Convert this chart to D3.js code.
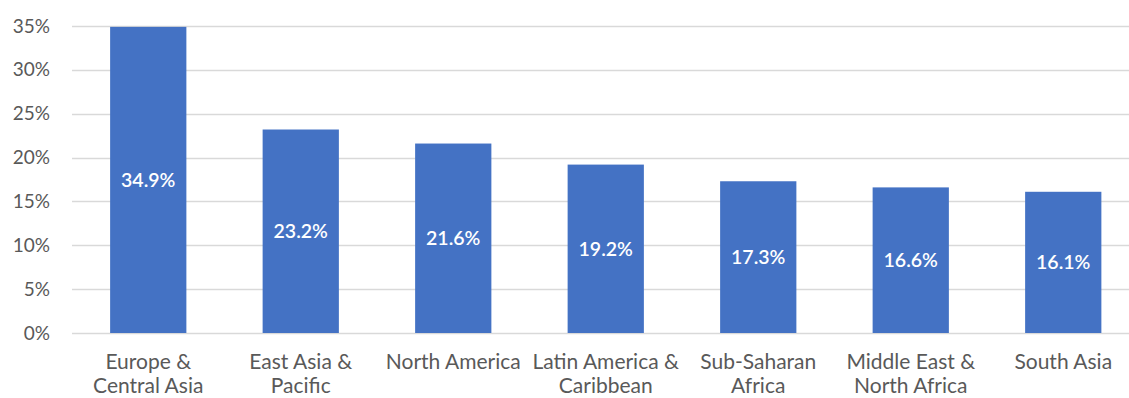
<!DOCTYPE html>
<html>
<head>
<meta charset="utf-8">
<script src="https://cdn.jsdelivr.net/npm/d3@7"></script>
<style>
  html, body { margin: 0; padding: 0; background: #fff; }
  svg { display: block; }
  text { font-family: Lato, "Open Sans", sans-serif; }
</style>
</head>
<body>
<svg id="chart" width="1129" height="398"></svg>
<script>
// Regions and their shares
const regions = [
  ["Europe &", "Central Asia"],
  ["East Asia &", "Pacific"],
  ["North America"],
  ["Latin America &", "Caribbean"],
  ["Sub-Saharan", "Africa"],
  ["Middle East &", "North Africa"],
  ["South Asia"]
];
const shares = [34.9, 23.2, 21.6, 19.2, 17.3, 16.6, 16.1];
const yTicks = [0, 5, 10, 15, 20, 25, 30, 35];

const W = 1129, H = 398;
const svg = d3.select("#chart");

const keys = regions.map(r => r.join(" "));
const x = d3.scaleBand()
  .domain(keys)
  .range([72, 1139.5])
  .paddingInner(0.5)
  .paddingOuter(0.25);

const y = d3.scaleLinear().domain([0, 35]).range([333, 26]);

// Horizontal gridlines
svg.append("g")
  .selectAll("line")
  .data(yTicks)
  .join("line")
  .attr("x1", 72).attr("x2", W)
  .attr("y1", d => Math.round(y(d)) + 0.5)
  .attr("y2", d => Math.round(y(d)) + 0.5)
  .attr("stroke", "#d9d9d9")
  .attr("stroke-width", 1.5);

// Y axis labels
const yAxis = d3.axisLeft(y).tickValues(yTicks).tickFormat(d => d + "%").tickSize(0).tickPadding(0);
const ga = svg.append("g").attr("transform", "translate(50,0)").call(yAxis);
ga.select(".domain").remove();
ga.selectAll("text")
  .attr("font-family", "Lato, 'Open Sans', sans-serif")
  .attr("font-size", 19)
  .attr("fill", "#595959");

// Bars
svg.append("g")
  .selectAll("rect")
  .data(shares)
  .join("rect")
  .attr("x", (d, i) => x(keys[i]))
  .attr("width", x.bandwidth())
  .attr("y", d => y(d))
  .attr("height", d => y(0) - y(d))
  .attr("fill", "#4472C4");

// Value labels centred in each bar
svg.append("g")
  .selectAll("text")
  .data(shares)
  .join("text")
  .attr("x", (d, i) => x(keys[i]) + x.bandwidth() / 2)
  .attr("y", d => (y(0) + y(d)) / 2)
  .attr("dy", "0.35em")
  .attr("text-anchor", "middle")
  .attr("font-size", 19.5)
  .attr("font-weight", 600)
  .attr("fill", "#ffffff")
  .text(d => d.toFixed(1) + "%");

// Category labels, wrapped over two lines
const cat = svg.append("g")
  .selectAll("text")
  .data(regions)
  .join("text")
  .attr("x", (d, i) => x(keys[i]) + x.bandwidth() / 2)
  .attr("y", 369)
  .attr("text-anchor", "middle")
  .attr("font-size", 21)
  .attr("fill", "#595959");
cat.selectAll("tspan")
  .data(d => d)
  .join("tspan")
  .attr("x", function() { return this.parentNode.getAttribute("x"); })
  .attr("dy", (d, i) => i === 0 ? 0 : 24)
  .text(d => d);
</script>
</body>
</html>
